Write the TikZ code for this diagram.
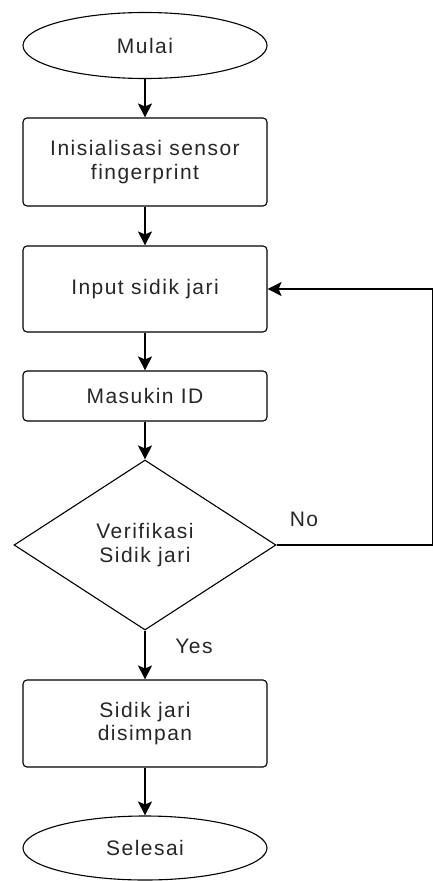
\documentclass[tikz,border=0pt]{standalone}
\usepackage{fontspec}
\setmainfont{Liberation Sans}[LetterSpace=7]
\usetikzlibrary{shapes.geometric,arrows.meta}
\begin{document}
\begin{tikzpicture}[x=1pt,y=-1pt,
  base/.style={draw=black,line width=1.1pt,text=black!85,font=\fontsize{21}{23.5}\selectfont,align=center,inner sep=0pt},
  term/.style={base,ellipse,minimum width=244pt,minimum height=66pt},
  proc/.style={base,rectangle,rounded corners=4pt,minimum width=244pt},
  dec/.style={base,diamond,minimum width=262pt,minimum height=170pt},
  flow/.style={line width=1.1pt,-{Stealth[length=14pt,width=14pt,inset=3pt]}},
  lbl/.style={font=\fontsize{21}{23.5}\selectfont,text=black!85,inner sep=0pt}]
\useasboundingbox (0,0) rectangle (433,881);
\node[term] (start) at (145,45.5) {Mulai};
\node[proc,minimum height=88pt] (init) at (145,162) {Inisialisasi sensor\\fingerprint};
\node[proc,minimum height=86pt] (input) at (145,289) {Input sidik jari};
\node[proc,minimum height=50pt] (id) at (145,396) {Masukin ID};
\node[dec] (ver) at (145,545) {Verifikasi\\Sidik jari};
\node[proc,minimum height=87pt] (save) at (145,723.5) {Sidik jari\\disimpan};
\node[term,minimum height=64pt] (end) at (145,848) {Selesai};
\coordinate (r1) at (432.5,545);
\coordinate (r2) at (432.5,289);
\node[lbl] (no) at (304,519) {No};
\node[lbl] (yes) at (194,646) {Yes};
\draw[flow] (start) -- (init);
\draw[flow] (init) -- (input);
\draw[flow] (input) -- (id);
\draw[flow] (id) -- (ver);
\draw[flow] (ver) -- (save);
\draw[flow] (save) -- (end);
\draw[flow] (ver.east) -- (r1) -- (r2) -- (input.east);
\end{tikzpicture}
\end{document}
